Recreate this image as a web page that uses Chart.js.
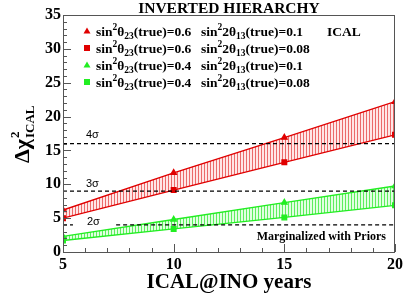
<!DOCTYPE html>
<html><head><meta charset="utf-8">
<script src="https://cdn.jsdelivr.net/npm/chart.js@4/dist/chart.umd.min.js"></script>
<style>html,body{margin:0;padding:0;background:#fff}#wrap{width:414px;height:297px}</style>
</head><body><div id="wrap"><canvas id="c" width="414" height="297"></canvas></div>
<script>
const years = [5, 10, 15, 20];
const red06_01 = [6.2, 11.7, 16.9, 22.2];
const red06_008 = [5.0, 9.15, 13.25, 17.3];
const green04_01 = [2.3, 4.8, 7.3, 9.75];
const green04_008 = [1.7, 3.4, 5.1, 6.9];
const sigmaLevels = [4, 9, 16];
const sigmaLabels = ['2σ', '3σ', '4σ'];
const xTicks = [5, 10, 15, 20];
const yTicks = [0, 5, 10, 15, 20, 25, 30, 35];

const RED = '#e00000', GREEN = '#22ee22';
function pattern(line, bg) {
  const c = document.createElement('canvas'); c.width = 3; c.height = 3;
  const g = c.getContext('2d');
  g.fillStyle = bg; g.fillRect(0, 0, 3, 3);
  g.fillStyle = line; g.fillRect(0, 0, 1, 3);
  return g.createPattern(c, 'repeat');
}
const redFill = pattern('rgba(225,40,40,0.65)', 'rgba(255,215,215,0.6)');
const greenFill = pattern('rgba(40,230,40,0.7)', 'rgba(205,255,205,0.6)');

function pts(ys) { return years.map((x, i) => ({x, y: ys[i]})); }
function dashed(x0, x1, y) {
  return {data: [{x: x0, y}, {x: x1, y}], borderColor: '#000', borderWidth: 1.2, borderDash: [4, 3], pointRadius: 0, fill: false, order: -1};
}

const datasets = [
  {data: pts(red06_01), borderColor: RED, backgroundColor: RED, pointStyle: 'triangle', pointRadius: 3.2, borderWidth: 1.3, fill: false},
  {data: pts(red06_008), borderColor: RED, backgroundColor: redFill, pointBackgroundColor: RED, pointStyle: 'rect', pointRadius: 3.3, borderWidth: 1.3, fill: '-1'},
  {data: pts(green04_01), borderColor: GREEN, backgroundColor: GREEN, pointStyle: 'triangle', pointRadius: 3.2, borderWidth: 1.3, fill: false},
  {data: pts(green04_008), borderColor: GREEN, backgroundColor: greenFill, pointBackgroundColor: GREEN, pointStyle: 'rect', pointRadius: 3.3, borderWidth: 1.3, fill: '-1'},
  dashed(5, 20, sigmaLevels[2]),
  dashed(5, 20, sigmaLevels[1]),
  dashed(5, 5.45, sigmaLevels[0]),
  dashed(7.4, 20, sigmaLevels[0])
];

function drawRich(ctx, x, y, parts) {
  for (const [t, s, dy] of parts) {
    ctx.font = 'bold ' + s + 'px "Liberation Serif", serif';
    ctx.fillText(t, x, y + dy);
    x += ctx.measureText(t).width;
  }
  return x;
}

const overlay = {
  id: 'overlay',
  afterDraw(chart) {
    const ctx = chart.ctx, a = chart.chartArea, xs = chart.scales.x, ys = chart.scales.y;
    ctx.save();
    ctx.strokeStyle = '#555'; ctx.lineWidth = 1;
    ctx.strokeRect(a.left + 0.5, a.top + 0.5, a.right - a.left - 1, a.bottom - a.top);
    ctx.beginPath();
    for (let v = 0; v <= 35; v++) {
      const p = Math.round(ys.getPixelForValue(v)) + 0.5;
      const len = v % 5 === 0 ? 8 : 4;
      ctx.moveTo(a.left, p); ctx.lineTo(a.left + len, p);
    }
    for (let v = 5; v <= 20; v++) {
      const p = Math.round(xs.getPixelForValue(v)) + 0.5;
      const len = v % 5 === 0 ? 8 : 4;
      ctx.moveTo(p, a.bottom); ctx.lineTo(p, a.bottom - len);
    }
    ctx.stroke();
    ctx.fillStyle = '#000';
    ctx.font = '11px "Liberation Sans", sans-serif';
    ctx.textBaseline = 'alphabetic';
    ctx.fillText(sigmaLabels[2], 86, ys.getPixelForValue(sigmaLevels[2]) - 6);
    ctx.fillText(sigmaLabels[1], 86, ys.getPixelForValue(sigmaLevels[1]) - 4);
    ctx.fillText(sigmaLabels[0], 87, ys.getPixelForValue(sigmaLevels[0]) - 0);
    ctx.font = 'bold 12px "Liberation Serif", serif';
    ctx.textAlign = 'right';
    ctx.fillText('Marginalized with Priors', 386, 240);
    ctx.textAlign = 'left';
    const rows = [
      [RED, 'tri', '0.6', '0.1'],
      [RED, 'sq', '0.6', '0.08'],
      [GREEN, 'tri', '0.4', '0.1'],
      [GREEN, 'sq', '0.4', '0.08']
    ];
    rows.forEach((r, i) => {
      const cy = 31 + i * 17;
      ctx.fillStyle = r[0];
      if (r[1] === 'tri') {
        ctx.beginPath(); ctx.moveTo(87, cy - 3.5); ctx.lineTo(90.5, cy + 2.5); ctx.lineTo(83.5, cy + 2.5); ctx.closePath(); ctx.fill();
      } else {
        ctx.fillRect(84, cy - 3, 6, 6);
      }
      ctx.fillStyle = '#000';
      const b = cy + 4.5;
      drawRich(ctx, 96, b, [['sin', 13.5, 0], ['2', 9.5, -6], ['θ', 13.5, 0], ['23', 9.5, 3], ['(true)=' + r[2], 13.5, 0]]);
      drawRich(ctx, 201, b, [['sin', 13.5, 0], ['2', 9.5, -6], ['2θ', 13.5, 0], ['13', 9.5, 3], ['(true)=' + r[3], 13.5, 0]]);
    });
    ctx.font = 'bold 13.5px "Liberation Serif", serif';
    ctx.fillText('ICAL', 327, 35.5);
    ctx.textAlign = 'center';
    ctx.font = 'bold 15.5px "Liberation Serif", serif';
    ctx.fillText('INVERTED HIERARCHY', 229, 12.5);
    ctx.font = 'bold 21px "Liberation Serif", serif';
    ctx.fillText('ICAL@INO years', 229, 288);
    ctx.translate(29, 163);
    ctx.rotate(-Math.PI / 2);
    ctx.textAlign = 'left';
    ctx.font = 'bold 22px "Liberation Serif", serif';
    ctx.fillText('Δχ', 0, 0);
    const w = ctx.measureText('Δχ').width;
    ctx.font = 'bold 13px "Liberation Serif", serif';
    ctx.fillText('2', w + 1, -10);
    ctx.fillText('ICAL', w + 1, 5);
    ctx.restore();
  }
};

new Chart(document.getElementById('c'), {
  type: 'line',
  data: {datasets},
  plugins: [overlay],
  options: {
    responsive: false, animation: false, devicePixelRatio: 1,
    layout: {padding: {top: 15, right: 19, left: 0, bottom: 0}},
    plugins: {legend: {display: false}, tooltip: {enabled: false}, title: {display: false}},
    elements: {line: {tension: 0}},
    scales: {
      x: {
        type: 'linear', min: 5, max: 20,
        afterBuildTicks: s => { s.ticks = xTicks.map(v => ({value: v})); },
        afterFit: s => { s.height = 45; },
        grid: {display: false, drawTicks: false},
        border: {display: false},
        ticks: {padding: 3, color: '#000', font: {family: '"Liberation Serif", serif', size: 16, weight: 'bold'}, maxRotation: 0, autoSkip: false}
      },
      y: {
        type: 'linear', min: 0, max: 35,
        afterBuildTicks: s => { s.ticks = yTicks.map(v => ({value: v})); },
        afterFit: s => { s.width = 63; },
        grid: {display: false, drawTicks: false},
        border: {display: false},
        ticks: {padding: 2, color: '#000', font: {family: '"Liberation Serif", serif', size: 16, weight: 'bold'}}
      }
    }
  }
});
</script>
</body></html>
